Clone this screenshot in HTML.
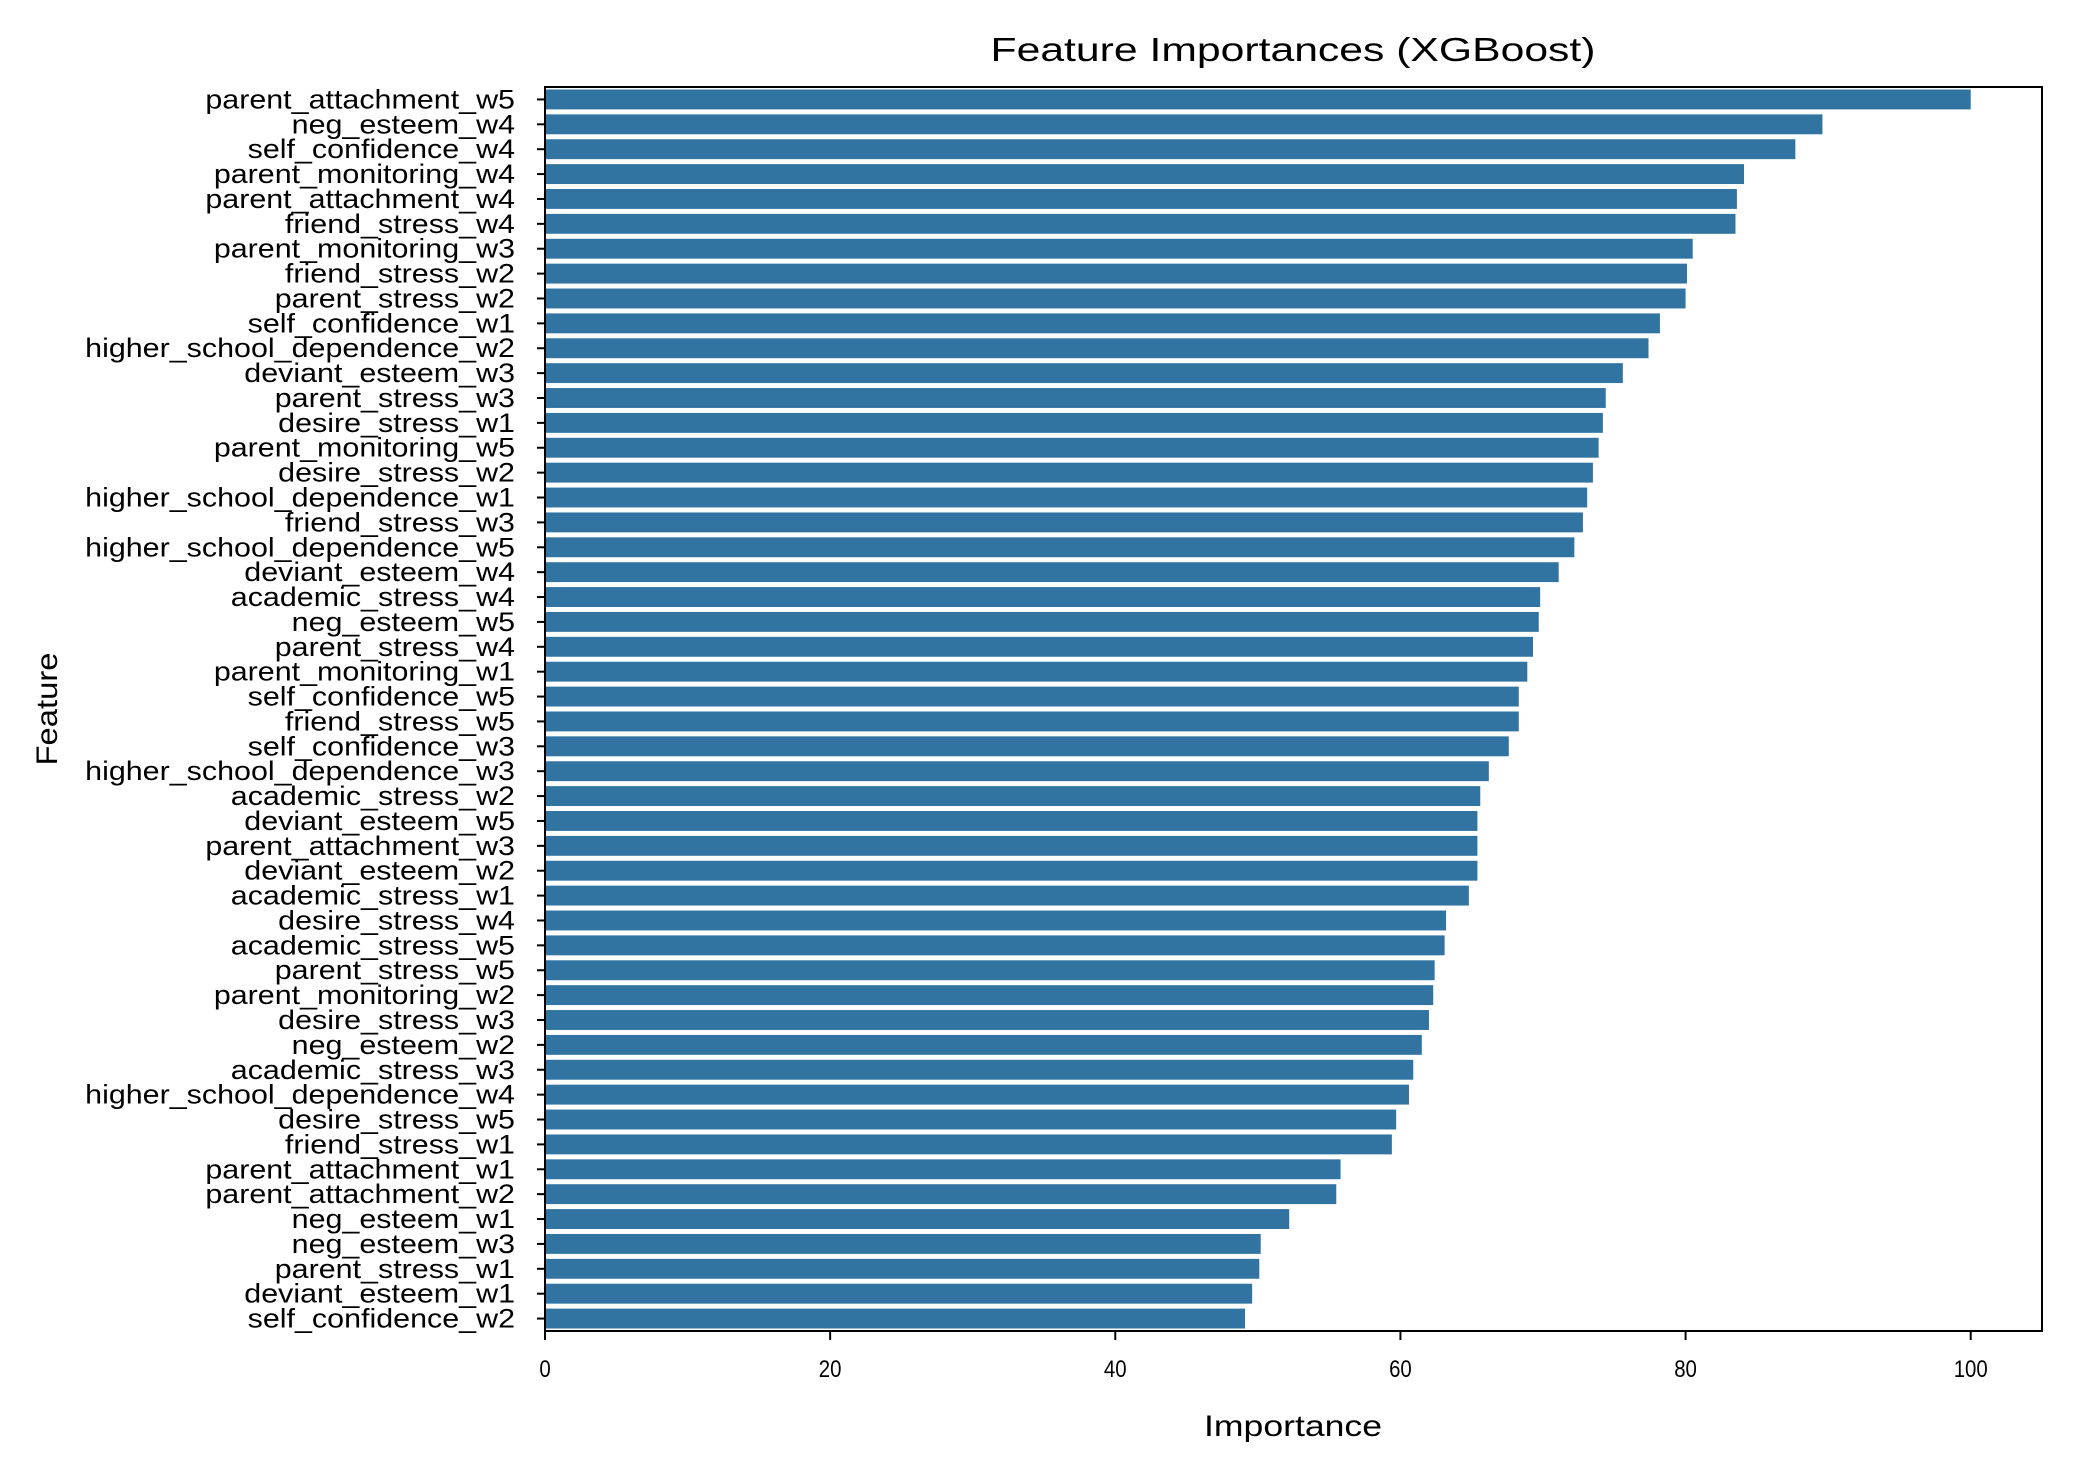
<!DOCTYPE html>
<html><head><meta charset="utf-8"><style>
html,body{margin:0;padding:0;background:#fff;}
svg{display:block;font-family:"Liberation Sans",sans-serif;}
</style></head><body>
<svg id="chart" width="2073" height="1472">
<text x="1293" y="61" font-size="33" text-anchor="middle" textLength="605" lengthAdjust="spacingAndGlyphs">Feature Importances (XGBoost)</text>
<g id="bars"></g>
<g id="ylabels"></g>
<g id="xaxis"></g>
<rect x="545" y="87" width="1497" height="1244" fill="none" stroke="#000" stroke-width="2"/>
<text x="1293" y="1436" font-size="30" text-anchor="middle" textLength="178" lengthAdjust="spacingAndGlyphs">Importance</text>
<text transform="translate(57,709) rotate(-90)" font-size="30" text-anchor="middle" textLength="113" lengthAdjust="spacingAndGlyphs">Feature</text>
</svg>
<script>
const features = ["parent_attachment_w5","neg_esteem_w4","self_confidence_w4","parent_monitoring_w4","parent_attachment_w4","friend_stress_w4","parent_monitoring_w3","friend_stress_w2","parent_stress_w2","self_confidence_w1","higher_school_dependence_w2","deviant_esteem_w3","parent_stress_w3","desire_stress_w1","parent_monitoring_w5","desire_stress_w2","higher_school_dependence_w1","friend_stress_w3","higher_school_dependence_w5","deviant_esteem_w4","academic_stress_w4","neg_esteem_w5","parent_stress_w4","parent_monitoring_w1","self_confidence_w5","friend_stress_w5","self_confidence_w3","higher_school_dependence_w3","academic_stress_w2","deviant_esteem_w5","parent_attachment_w3","deviant_esteem_w2","academic_stress_w1","desire_stress_w4","academic_stress_w5","parent_stress_w5","parent_monitoring_w2","desire_stress_w3","neg_esteem_w2","academic_stress_w3","higher_school_dependence_w4","desire_stress_w5","friend_stress_w1","parent_attachment_w1","parent_attachment_w2","neg_esteem_w1","neg_esteem_w3","parent_stress_w1","deviant_esteem_w1","self_confidence_w2"];
const importances = [100,89.6,87.7,84.1,83.6,83.5,80.5,80.1,80.0,78.2,77.4,75.6,74.4,74.2,73.9,73.5,73.1,72.8,72.2,71.1,69.8,69.7,69.3,68.9,68.3,68.3,67.6,66.2,65.6,65.4,65.4,65.4,64.8,63.2,63.1,62.4,62.3,62.0,61.5,60.9,60.6,59.7,59.4,55.8,55.5,52.2,50.2,50.1,49.6,49.1];
const xTicks = [0,20,40,60,80,100];

const NS="http://www.w3.org/2000/svg";
const L=545,R=2042,T=87,B=1331,XMAX=105;
const xs=v=>L+(v/XMAX)*(R-L);
const band=(B-T)/features.length;
const yc=i=>T+band*(i+0.5);
function mk(tag,attrs,parent){const e=document.createElementNS(NS,tag);for(const k in attrs)e.setAttribute(k,attrs[k]);parent.appendChild(e);return e;}
const gb=document.getElementById('bars'),gl=document.getElementById('ylabels'),gx=document.getElementById('xaxis');
const labelGroup=mk('g',{},gl);
features.forEach((f,i)=>{
  const r=mk('rect',{x:L,y:yc(i)-band*0.4,width:xs(importances[i])-L,height:band*0.8,fill:'#3274a1'},gb);
  
  
  const t=mk('line',{x1:L-8,x2:L,y1:yc(i),y2:yc(i),stroke:'#000','stroke-width':2},gl);
  
  
  const tx=mk('text',{x:515,y:yc(i)+9,'font-size':27,'text-anchor':'end'},labelGroup);
  tx.textContent=f;
  
  
});
let maxW=0;labelGroup.querySelectorAll('text').forEach(t=>{maxW=Math.max(maxW,t.getComputedTextLength());});
if(maxW>0){const s=430/maxW;labelGroup.setAttribute('transform','translate(515,0) scale('+s+',1) translate(-515,0)');}
xTicks.forEach(v=>{
  const t=mk('line',{x1:xs(v),x2:xs(v),y1:B,y2:B+9,stroke:'#000','stroke-width':2},gx);
  
  
  const tx=mk('text',{x:xs(v),y:B+46,'font-size':24,'text-anchor':'middle',transform:'translate('+xs(v)+',0) scale(0.85,1) translate('+(-xs(v))+',0)'},gx);
  tx.textContent=v;
  
  
});
</script>
</body></html>
